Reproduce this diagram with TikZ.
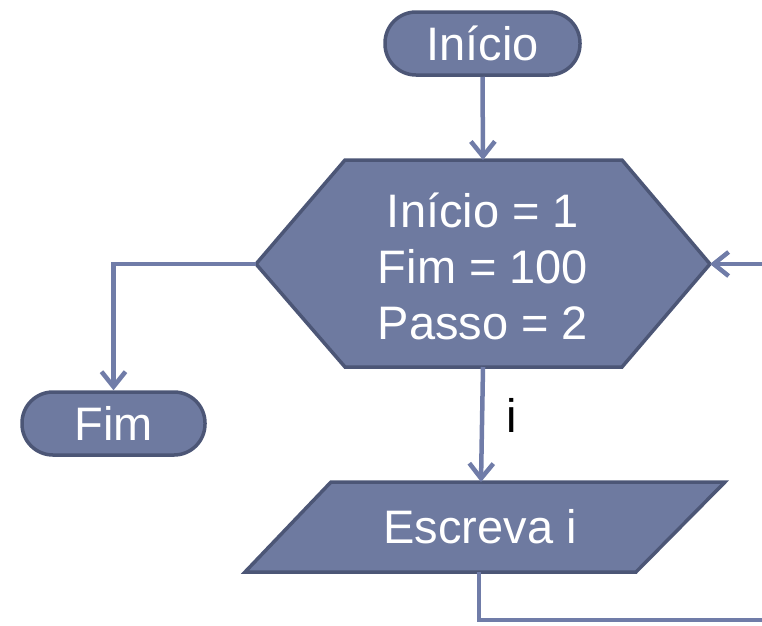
\documentclass[tikz,border=0pt]{standalone}
\usepackage{fontspec}
\setmainfont{Liberation Sans}
\usetikzlibrary{arrows.meta}
\definecolor{boxfill}{RGB}{110,122,160}
\definecolor{boxline}{RGB}{76,86,118}
\definecolor{conn}{RGB}{112,124,168}
\begin{document}
\begin{tikzpicture}[x=1pt,y=-1pt,
  shapestyle/.style={fill=boxfill,draw=boxline,line width=3.5pt},
  term/.style={shapestyle,rounded corners=31pt,minimum height=63pt,inner sep=0pt},
  txt/.style={text=white,font=\fontsize{47}{56}\selectfont,align=center,inner sep=0pt},
  conn/.style={draw=conn,line width=4.5pt,-{Straight Barb[length=15pt,width=24pt,line width=4.5pt]}},
  plain/.style={draw=conn,line width=4.5pt}]
\useasboundingbox (0,0) rectangle (762,625);
% start
\node[term,minimum width=195pt] (ini) at (482.5,43.5) {};
\node[txt] at (ini) {Início};
% hexagon
\coordinate (hexL) at (256,264);
\coordinate (hexR) at (710,264);
\coordinate (hexT) at (483,160);
\coordinate (hexB) at (483,367);
\draw[shapestyle,line join=miter] (hexL) -- (345,160) -- (622,160) -- (hexR) -- (622,367) -- (345,367) -- cycle;
\node[txt] (hex) at (483,266) {Início = 1\\Fim = 100\\Passo = 2};
% end
\node[term,minimum width=183pt] (fim) at (113.5,423.5) {};
\node[txt] at (fim) {Fim};
% output
\coordinate (escT) at (481,482);
\coordinate (escB) at (479,572);
\draw[shapestyle,line join=miter] (331,482) -- (725,482) -- (636,572) -- (245,572) -- cycle;
\node[txt] (esc) at (480,527) {Escreva i};
% label
\node[font=\fontsize{47}{56}\selectfont,inner sep=0pt] (lbl) at (512,415) {i};
% loop free ends
\coordinate (r1) at (766,620);
\coordinate (r2) at (766,264);
% connectors
\draw[conn] (ini.south) -- (hexT);
\draw[conn] (hexL) -| (fim.north);
\draw[conn] (hexB) -- (escT);
\draw[plain] (escB) |- (r1);
\draw[conn] (r2) -- (hexR);
\end{tikzpicture}
\end{document}
